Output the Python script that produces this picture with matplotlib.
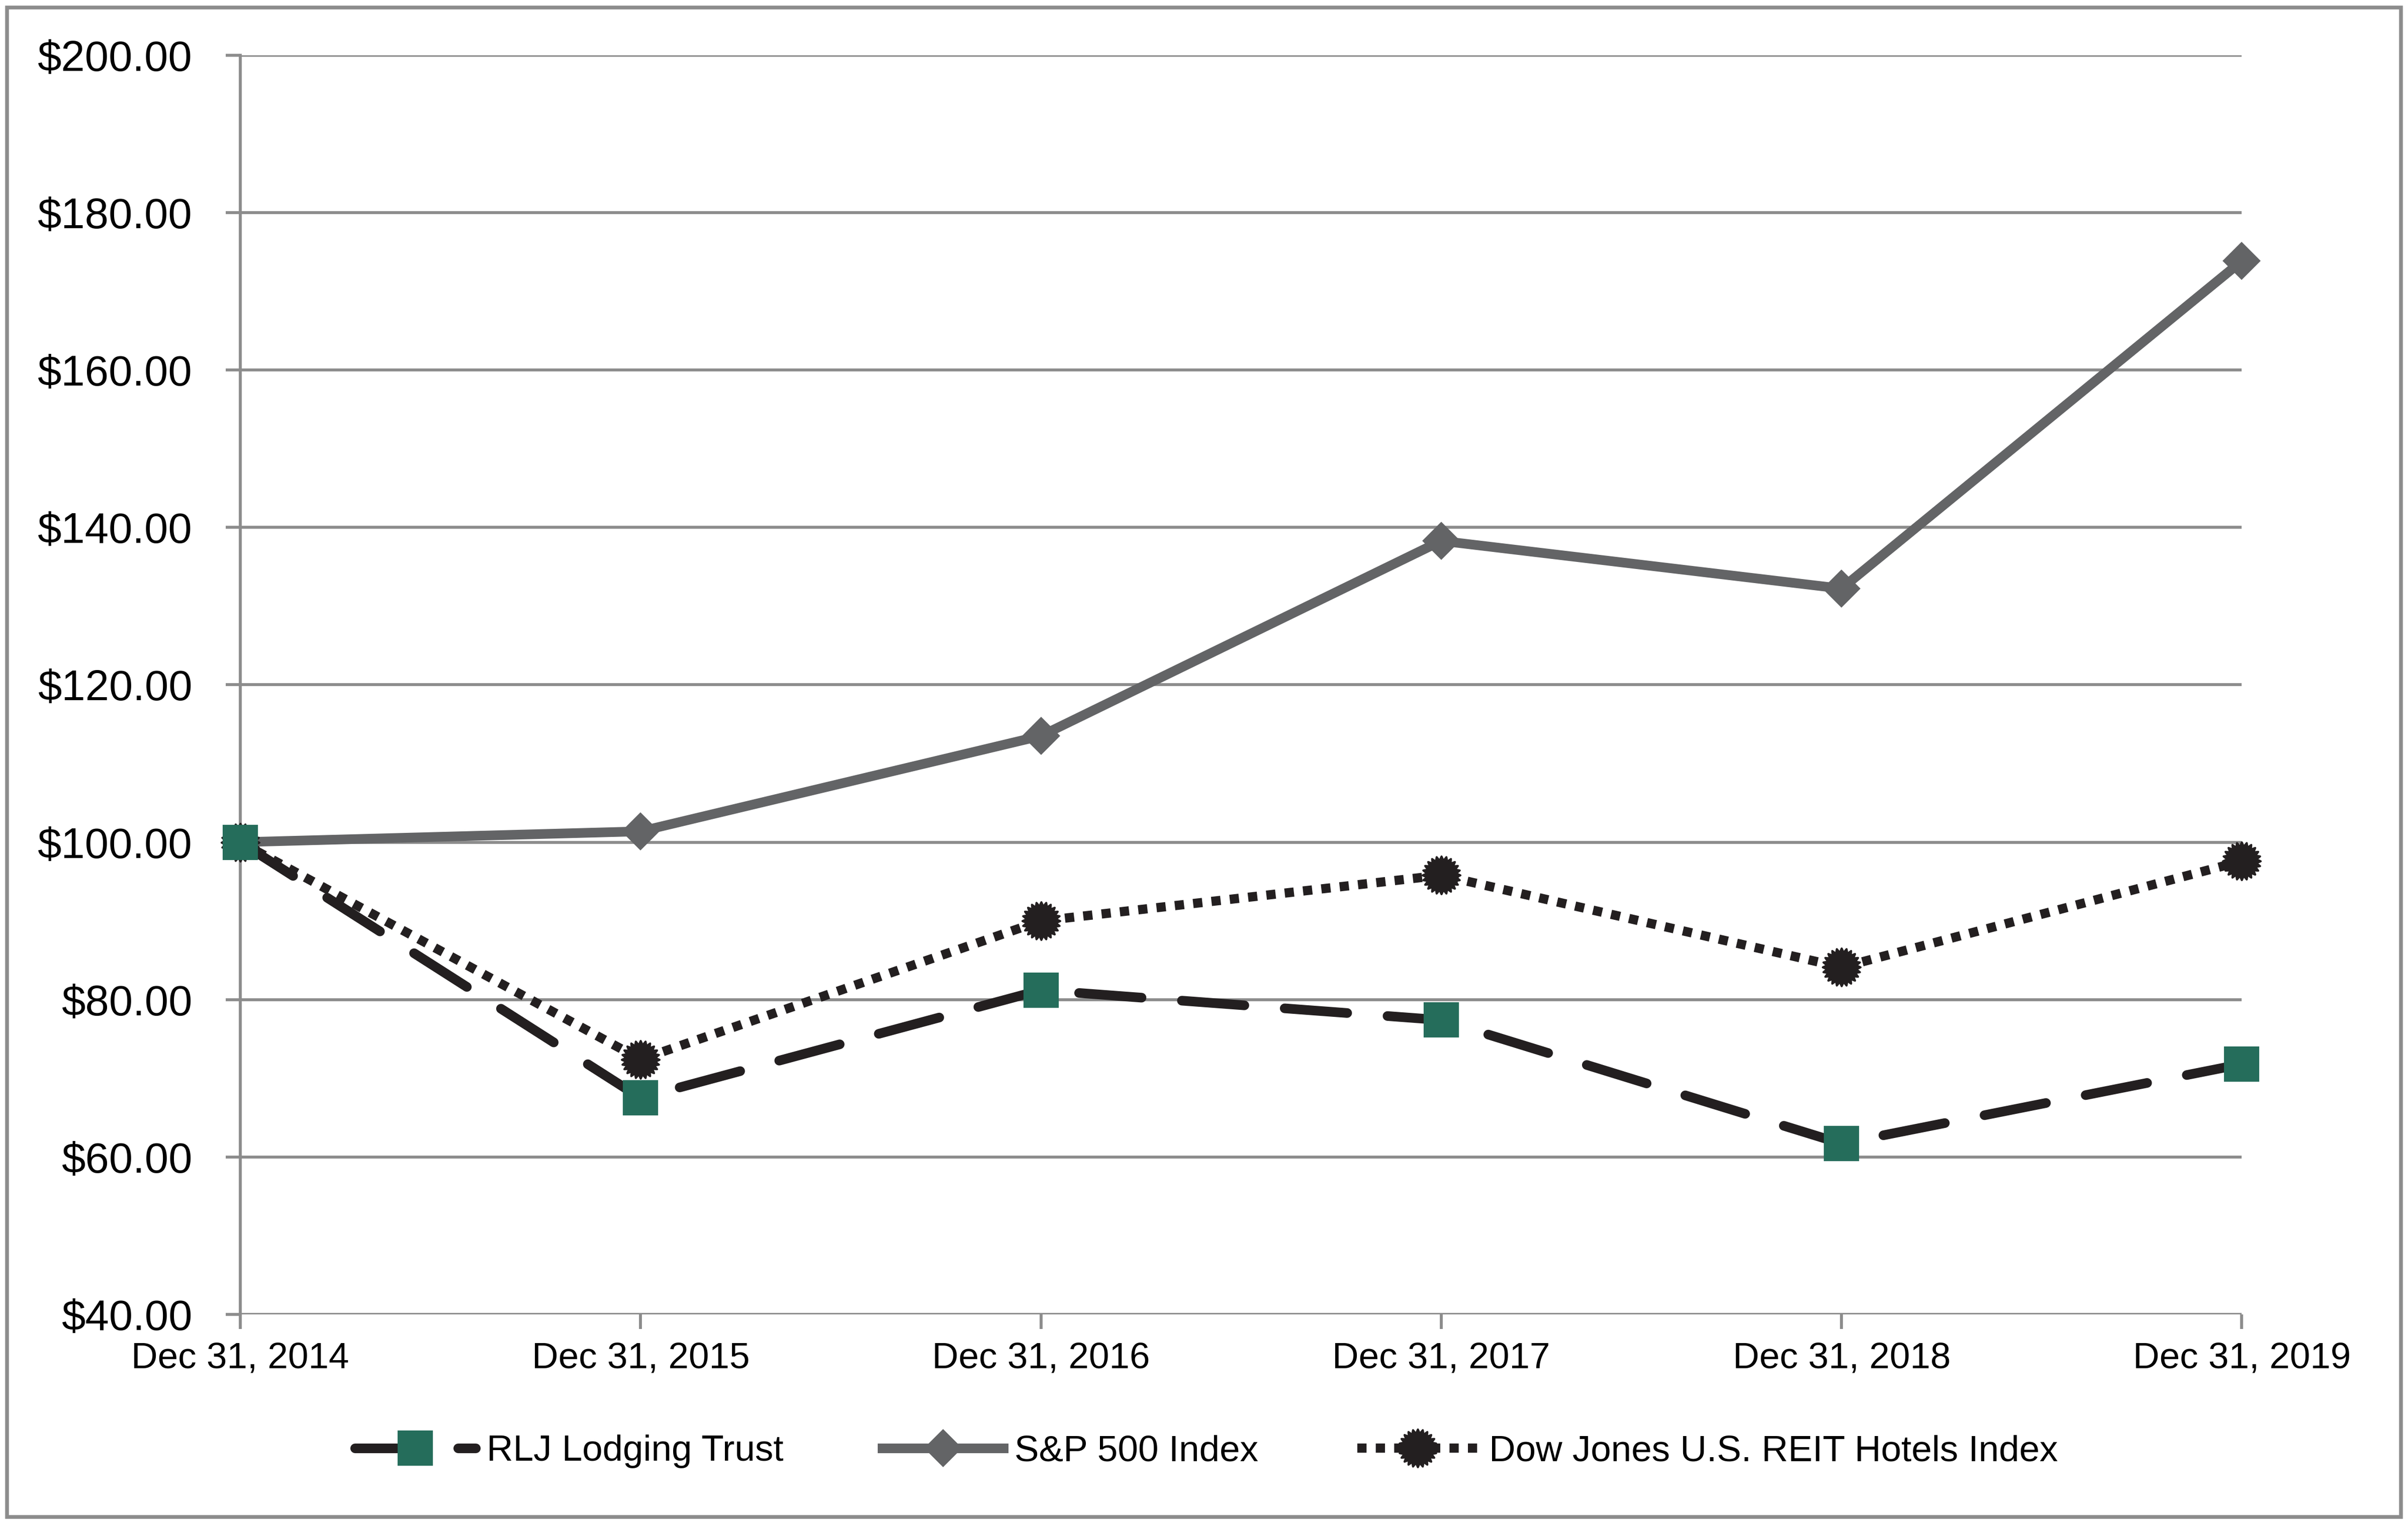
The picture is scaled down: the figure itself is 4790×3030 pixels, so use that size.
import numpy as np
import matplotlib
matplotlib.use("Agg")
import matplotlib.pyplot as plt
from matplotlib.path import Path
from matplotlib.patches import Rectangle
from matplotlib.ticker import FuncFormatter

# ---- data ----
categories = ["Dec 31, 2014", "Dec 31, 2015", "Dec 31, 2016",
              "Dec 31, 2017", "Dec 31, 2018", "Dec 31, 2019"]
rlj = [100.00, 67.5, 81.2, 77.4, 61.7, 71.8]
sp500 = [100.00, 101.38, 113.51, 138.29, 132.23, 173.86]
dj_hotels = [100.00, 72.4, 90.0, 95.8, 84.1, 97.6]
series_names = ["RLJ Lodging Trust", "S&P 500 Index", "Dow Jones U.S. REIT Hotels Index"]
y_ticks = [40, 60, 80, 100, 120, 140, 160, 180, 200]

plt.rcParams['font.family'] = ['Liberation Sans', 'DejaVu Sans']

GREEN = "#256d5b"
GREY = "#636466"
BLACK = "#231f20"
GRID = "#8c8c8c"

# starburst marker
n = 24
ang = np.linspace(0, 2 * np.pi, 2 * n, endpoint=False)
rad = np.where(np.arange(2 * n) % 2 == 0, 1.0, 0.78)
verts = np.column_stack([rad * np.cos(ang), rad * np.sin(ang)])
verts = np.vstack([verts, verts[0]])
codes = [Path.MOVETO] + [Path.LINETO] * (2 * n - 1) + [Path.CLOSEPOLY]
burst = Path(verts, codes)

W, H, DPI = 4790, 3030, 300
fig = plt.figure(figsize=(W / DPI, H / DPI), dpi=DPI)
ax = fig.add_axes([0.0998, 0.137, 0.931 - 0.0998, 0.9637 - 0.137])

x = np.arange(len(categories))

l_sp, = ax.plot(x, sp500, color=GREY, lw=4.6, marker='D', markersize=12,
                markerfacecolor=GREY, markeredgecolor=GREY, clip_on=False, zorder=3,
                label=series_names[1])
l_dj, = ax.plot(x, dj_hotels, color=BLACK, lw=4.4, marker=burst, markersize=18,
                markerfacecolor=BLACK, markeredgecolor=BLACK, clip_on=False, zorder=4,
                label=series_names[2])
l_dj.set_dashes([1.0, 1.0])
l_dj.set_dash_capstyle('butt')
l_rlj, = ax.plot(x, rlj, color=BLACK, lw=4.6, marker='s', markersize=16,
                 markerfacecolor=GREEN, markeredgecolor=GREEN, clip_on=False, zorder=5,
                 label=series_names[0])
l_rlj.set_dashes([6.5, 4.2])
l_rlj.set_dash_capstyle('round')

ax.set_xlim(0, len(categories) - 1)
ax.set_ylim(40, 200)
ax.set_yticks(y_ticks)
ax.yaxis.set_major_formatter(FuncFormatter(lambda v, p: f"${v:.2f}"))
ax.set_xticks(x)
ax.set_xticklabels(categories)

ax.grid(axis='y', color=GRID, lw=1.4)
ax.set_axisbelow(True)
for s in ['top', 'right', 'bottom']:
    ax.spines[s].set_visible(False)
ax.spines['left'].set_color(GRID)
ax.spines['left'].set_linewidth(1.4)

ax.tick_params(axis='y', length=7, width=1.4, color=GRID, pad=16, labelsize=20.4, labelcolor='black')
ax.tick_params(axis='x', length=7, width=1.4, color=GRID, pad=6, labelsize=17.5, labelcolor='black')

fig.legend(handles=[l_rlj, l_sp, l_dj], labels=series_names, loc='center',
           bbox_to_anchor=(0.501, 0.047), ncol=3, frameon=False, fontsize=17.5,
           handlelength=3.3, columnspacing=2.7, handletextpad=0.3)

# outer border
fig.patches.append(Rectangle((0.003, 0.004), 0.994, 0.991, transform=fig.transFigure,
                             fill=False, edgecolor=GRID, lw=1.8))

fig.savefig("out.png", dpi=DPI, facecolor='white')
